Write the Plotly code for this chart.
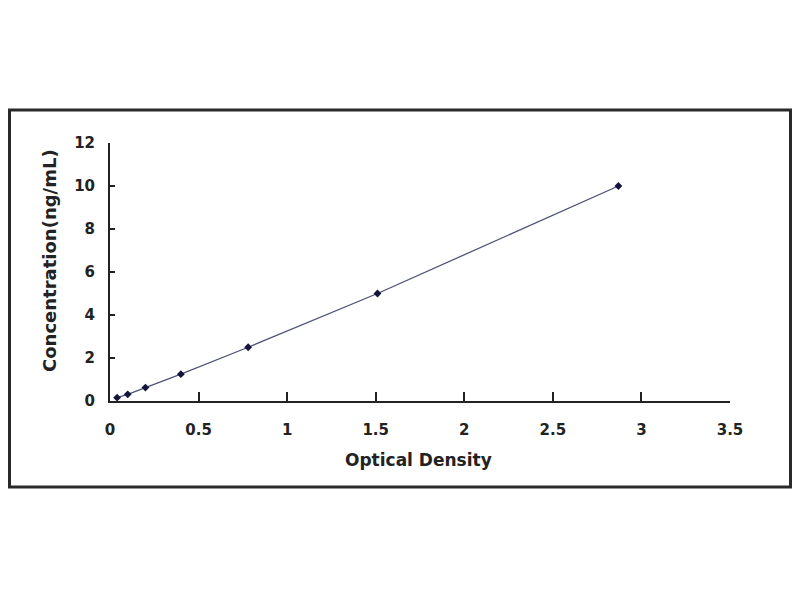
import plotly.graph_objects as go

optical_density = [0.04, 0.10, 0.20, 0.40, 0.78, 1.51, 2.87]
concentration = [0.156, 0.312, 0.625, 1.25, 2.5, 5.0, 10.0]

x_ticks = [0, 0.5, 1, 1.5, 2, 2.5, 3, 3.5]
x_tick_labels = ["0", "0.5", "1", "1.5", "2", "2.5", "3", "3.5"]
y_ticks = [0, 2, 4, 6, 8, 10, 12]
y_tick_labels = ["0", "2", "4", "6", "8", "10", "12"]

FONT = "DejaVu Sans"
DARK = "#222222"

fig = go.Figure()
fig.add_trace(go.Scatter(
    x=optical_density, y=concentration, mode="lines+markers",
    line=dict(color="#4e5378", width=1.3),
    marker=dict(symbol="diamond", size=6, color="#14143c"),
    showlegend=False, cliponaxis=False,
))

fig.update_layout(
    width=784, height=584,
    margin=dict(l=102, r=62, t=135, b=191),
    paper_bgcolor="white", plot_bgcolor="white",
    font=dict(family=FONT, color=DARK),
    xaxis=dict(
        range=[0, 3.5], tickvals=x_ticks, ticktext=x_tick_labels,
        showgrid=False, zeroline=False, showline=True, linecolor=DARK, linewidth=2,
        ticks="inside", ticklen=9, tickwidth=1.5, tickcolor=DARK,
        tickfont=dict(family=FONT, size=15, weight="bold", color=DARK),
        ticklabelstandoff=14,
    ),
    yaxis=dict(
        range=[0, 12], tickvals=y_ticks, ticktext=y_tick_labels,
        showgrid=False, zeroline=False, showline=True, linecolor=DARK, linewidth=2,
        ticks="inside", ticklen=5, tickwidth=1.5, tickcolor=DARK,
        tickfont=dict(family=FONT, size=15, weight="bold", color=DARK),
        ticklabelstandoff=10,
    ),
    annotations=[
        dict(text="Optical Density", xref="paper", yref="paper",
             x=0.4968, y=-0.2287, showarrow=False, xanchor="center", yanchor="middle",
             font=dict(family=FONT, size=17, weight="bold", color=DARK)),
        dict(text="Concentration(ng/mL)", xref="paper", yref="paper",
             x=-0.0984, y=0.5465, showarrow=False, textangle=-90,
             xanchor="center", yanchor="middle",
             font=dict(family=FONT, size=18, weight="bold", color=DARK)),
    ],
    shapes=[
        dict(type="rect", xref="paper", yref="paper",
             x0=-0.1621, x1=1.0976, y0=-0.333, y1=1.128,
             line=dict(color="#2a2a2a", width=3), fillcolor="rgba(0,0,0,0)"),
    ],
)

fig.write_html("out.html")
